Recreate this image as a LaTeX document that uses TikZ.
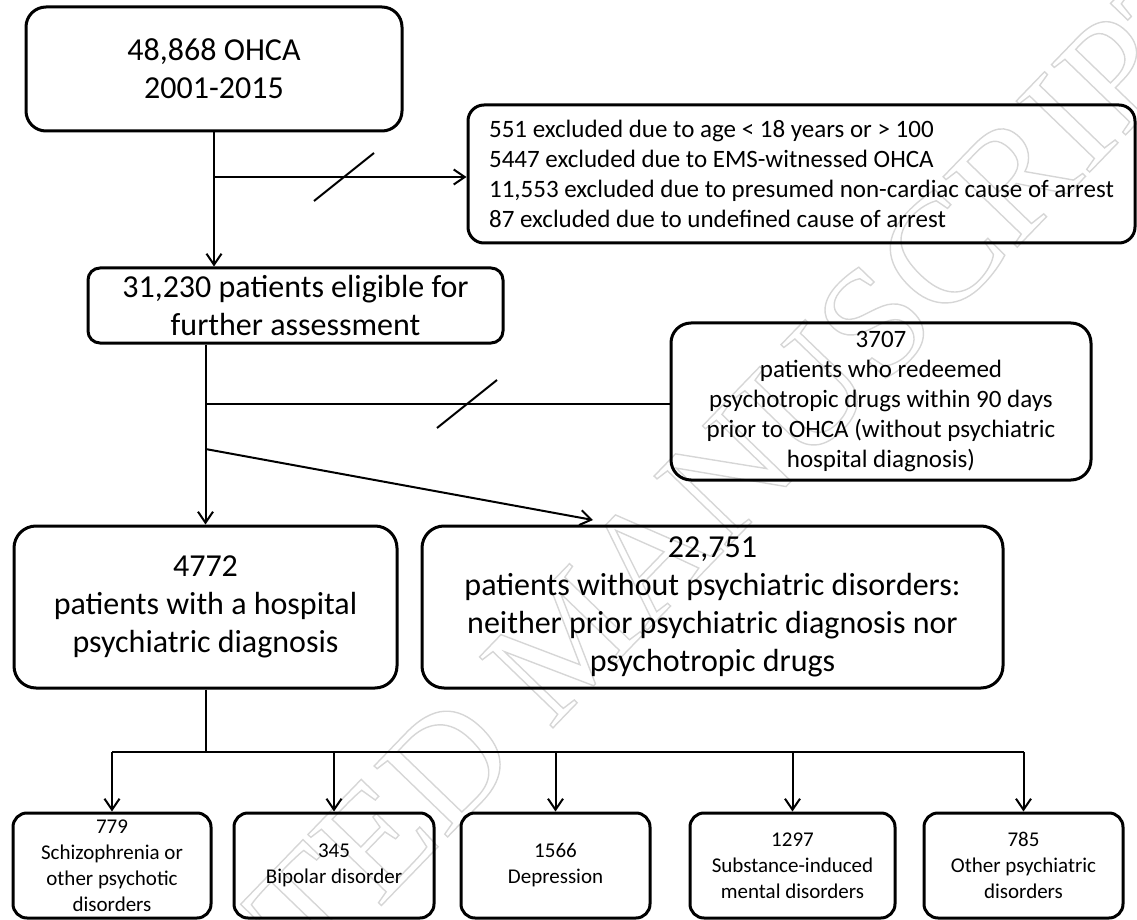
\documentclass[tikz,border=0pt]{standalone}
\usepackage{xcolor}
\usepackage{fontspec}
\setmainfont{Carlito}
\newfontfamily\markfont{Liberation Serif}
\usepackage{tikz}
\usetikzlibrary{arrows.meta}

\begin{document}
\begin{tikzpicture}[
		x=0.5pt, y=-0.5pt,
		bigbox/.style={rectangle, draw, line width=1.5pt, rounded corners=10pt, align=center, inner sep=2pt, font=\fontsize{16}{19}\selectfont},
		midbox/.style={rectangle, draw, line width=1.5pt, rounded corners=9pt, align=center, inner sep=2pt, font=\fontsize{12.5}{15}\selectfont},
		subbox/.style={rectangle, draw, line width=1.5pt, rounded corners=7pt, align=center, inner xsep=2pt, inner ysep=1pt, minimum height=52.5pt, font=\fontsize{10.5}{13}\selectfont},
		arrow/.style={-{Straight Barb[length=5.5pt, width=7.5pt]}, line width=1pt},
		link/.style={line width=1pt},
		cut/.style={line width=1pt},
		watermark/.style={text=black!16, font=\markfont\fontsize{78}{78}\selectfont, inner sep=0pt}
	]
		\useasboundingbox (0,0) rectangle (1137,920);
		\node[watermark, rotate=46] (wm) at (569,638) {\special{pdf:literal direct 1 Tr 0.7 w}ACCEPTED MANUSCRIPT\special{pdf:literal direct 0 Tr}};
		
		% Cohort
		\node[bigbox, minimum width=188pt, minimum height=62pt] (ohca) at (214,69) {48,868 OHCA\\2001-2015};
		\node[midbox, align=left, rounded corners=8pt, minimum width=333.5pt, minimum height=69pt] (excl) at (801.5,174) {551 excluded due to age < 18 years or > 100\\5447 excluded due to EMS-witnessed OHCA\\11,553 excluded due to presumed non-cardiac cause of arrest\\87 excluded due to undefined cause of arrest};
		\node[bigbox, rounded corners=6pt, minimum width=207.5pt, minimum height=37.5pt] (elig) at (295.5,305.5) {31,230 patients eligible for\\further assessment};
		\node[midbox, rounded corners=10pt, minimum width=210pt, minimum height=78.5pt] (drugs) at (881,401.5) {3707\\patients who redeemed\\psychotropic drugs within 90 days\\prior to OHCA (without psychiatric\\hospital diagnosis)};
		
		% Groups
		\node[bigbox, rounded corners=11pt, minimum width=191.5pt, minimum height=81pt] (psych) at (205.5,607) {4772\\patients with a hospital\\psychiatric diagnosis};
		\node[bigbox, rounded corners=11pt, minimum width=290.5pt, minimum height=81pt] (nopsych) at (712.5,607) {22,751\\patients without psychiatric disorders:\\neither prior psychiatric diagnosis nor\\psychotropic drugs};
		
		% Diagnoses
		\node[subbox, minimum width=99pt] (schizo) at (112,865.5) {779\\Schizophrenia or\\other psychotic\\disorders};
		\node[subbox, minimum width=100pt] (bipolar) at (334,865.5) {345\\Bipolar disorder};
		\node[subbox, minimum width=94.5pt] (depr) at (555.5,865.5) {1566\\Depression};
		\node[subbox, minimum width=102.5pt] (subst) at (792.5,865.5) {1297\\Substance-induced\\mental disorders};
		\node[subbox, minimum width=99.5pt] (other) at (1023.5,865.5) {785\\Other psychiatric\\disorders};
		
		% Branch points
		\coordinate (b1) at (214,177);
		\coordinate (b2) at (205.5,404);
		\coordinate (b3) at (205.5,449);
		\coordinate (b3end) at (593,520);
		\coordinate (bus) at (205.5,752);
		
		% Arrows
		\draw[arrow] (ohca.south) -- (ohca.south |- elig.north);
		\draw[arrow] (b1) -- (b1 -| excl.west);
		\draw[cut] ([shift={(-30,24)}]b1 -| 344,0) -- ([shift={(30,-24)}]b1 -| 344,0);
		\draw[arrow] (psych.north |- elig.south) -- (psych.north);
		\draw[link] (b2) -- (b2 -| drugs.west);
		\draw[cut] ([shift={(-30,24)}]b2 -| 467,0) -- ([shift={(30,-24)}]b2 -| 467,0);
		\draw[arrow] (b3) -- (b3end);
		\draw[link] (psych.south) -- (bus);
		\draw[link] (bus -| schizo.north) -- (bus -| other.north);
		\foreach \d in {schizo, bipolar, depr, subst, other}
			\draw[arrow] (bus -| \d.north) -- (\d.north);
	\end{tikzpicture}
\end{document}
